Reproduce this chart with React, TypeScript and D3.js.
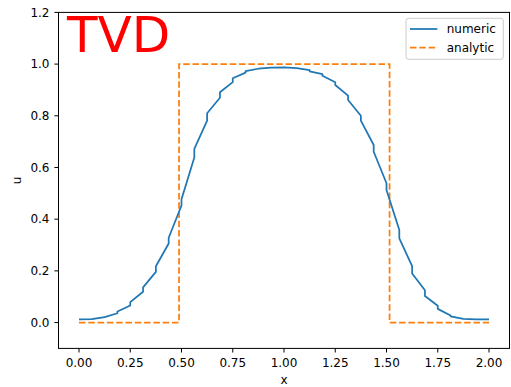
import React from "react";
import * as d3 from "d3";

const numericX = [0, 0.0625, 0.125, 0.1875, 0.1875, 0.25, 0.25, 0.3125, 0.3125, 0.375, 0.375, 0.4375, 0.4375, 0.5, 0.5, 0.5625, 0.5625, 0.625, 0.625, 0.6875, 0.6875, 0.75, 0.75, 0.8125, 0.8125, 0.875, 0.9375, 1.0, 1.0625, 1.125, 1.125, 1.1875, 1.1875, 1.25, 1.25, 1.3125, 1.3125, 1.375, 1.375, 1.4375, 1.4375, 1.5, 1.5, 1.5625, 1.5625, 1.625, 1.625, 1.6875, 1.6875, 1.75, 1.75, 1.8125, 1.8125, 1.875, 1.9375, 2.0];
const numericU = [0.012, 0.013, 0.021, 0.036, 0.043, 0.066, 0.079, 0.119, 0.136, 0.196, 0.218, 0.306, 0.328, 0.453, 0.477, 0.639, 0.672, 0.781, 0.810, 0.870, 0.891, 0.930, 0.945, 0.967, 0.973, 0.982, 0.986, 0.987, 0.984, 0.977, 0.972, 0.961, 0.955, 0.930, 0.919, 0.878, 0.861, 0.800, 0.781, 0.687, 0.661, 0.539, 0.513, 0.358, 0.326, 0.218, 0.190, 0.125, 0.103, 0.065, 0.053, 0.027, 0.024, 0.014, 0.012, 0.012];
const analyticX = [0, 0.488, 0.488, 1.515, 1.515, 2.0];
const analyticU = [0, 0, 1, 1, 0, 0];
const xTicks = [0, 0.25, 0.5, 0.75, 1.0, 1.25, 1.5, 1.75, 2.0];
const yTicks = [0, 0.2, 0.4, 0.6, 0.8, 1.0, 1.2];
const legendLabels = ["numeric", "analytic"];
const titleText = "TVD";

const W = 511, H = 387;
const L = 58.5, R = 509.5, T = 12.4, B = 348.4;
const FONT = "DejaVu Sans, sans-serif";
const BLUE = "#1f77b4", ORANGE = "#ff7f0e";

export default function App() {
  const x = d3.scaleLinear().domain([-0.1, 2.1]).range([L, R]);
  const y = d3.scaleLinear().domain([-0.1, 1.2]).range([B, T]);
  const line = d3.line<[number, number]>().x(d => x(d[0])).y(d => y(d[1]));
  const numPts = numericX.map((v, i) => [v, numericU[i]] as [number, number]);
  const anaPts = analyticX.map((v, i) => [v, analyticU[i]] as [number, number]);
  const dash = "6.5,2.8";
  return (
    <svg width={W} height={H} style={{ position: "absolute", left: 0, top: 0, background: "#fff" }} fontFamily={FONT}>
      <rect x={0} y={0} width={W} height={H} fill="#fff" />
      <path d={line(anaPts) || ""} fill="none" stroke={ORANGE} strokeWidth={1.75} strokeDasharray={dash} />
      <path d={line(numPts) || ""} fill="none" stroke={BLUE} strokeWidth={1.75} strokeLinejoin="round" />
      <rect x={L} y={T} width={R - L} height={B - T} fill="none" stroke="#000" strokeWidth={1} />
      {xTicks.map(t => (
        <g key={"x" + t}>
          <line x1={x(t)} x2={x(t)} y1={B} y2={B + 4.1} stroke="#000" strokeWidth={1} />
          <text x={x(t)} y={367} fontSize={12} textAnchor="middle" fill="#000">{t.toFixed(2)}</text>
        </g>
      ))}
      {yTicks.map(t => (
        <g key={"y" + t}>
          <line x1={L - 4.1} x2={L} y1={y(t)} y2={y(t)} stroke="#000" strokeWidth={1} />
          <text x={49.5} y={y(t)} dy="0.36em" fontSize={12} textAnchor="end" fill="#000">{t.toFixed(1)}</text>
        </g>
      ))}
      <text x={(L + R) / 2} y={383.5} fontSize={12} textAnchor="middle" fill="#000">x</text>
      <text transform={`translate(21,${(T + B) / 2}) rotate(-90)`} fontSize={12} textAnchor="middle" fill="#000">u</text>
      <text x={67} y={51.7} fontSize={50} fill="#ff0000">{titleText}</text>
      <g>
        <rect x={406} y={18.3} width={97.3} height={41} rx={2.5} fill="#fff" fillOpacity={0.8} stroke="#cccccc" strokeWidth={1} />
        <line x1={410} x2={437.3} y1={29} y2={29} stroke={BLUE} strokeWidth={1.75} />
        <line x1={410} x2={437.3} y1={47.7} y2={47.7} stroke={ORANGE} strokeWidth={1.75} strokeDasharray={dash} />
        <text x={446.7} y={29} dy="0.36em" fontSize={12} fill="#000">{legendLabels[0]}</text>
        <text x={446.7} y={47.7} dy="0.36em" fontSize={12} fill="#000">{legendLabels[1]}</text>
      </g>
    </svg>
  );
}
